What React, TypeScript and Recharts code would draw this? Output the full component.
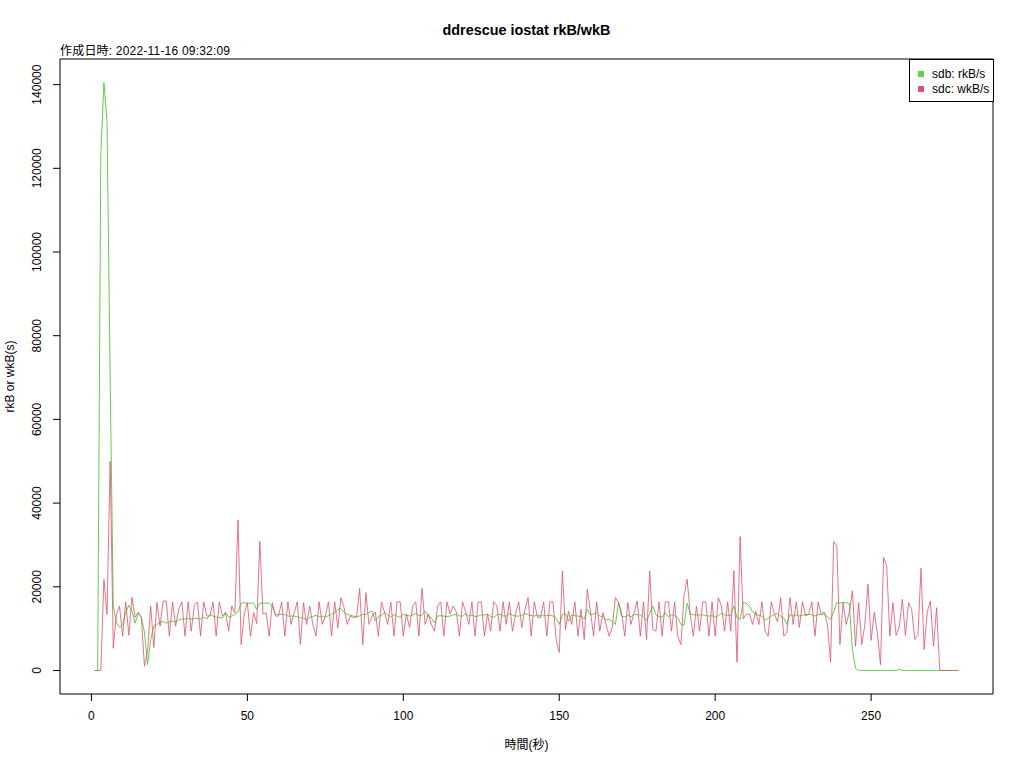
import React from 'react';
import { LineChart, Line, XAxis, YAxis, ReferenceArea } from 'recharts';

const sdbReadKB: number[] = [
  0, 0, 123000, 140500, 131000, 70000, 15400, 11500, 10300, 11000,
  13900, 15600, 14200, 11300, 13700, 12700, 9100, 1400, 7400, 10600,
  11000, 11500, 11700, 11300, 11600, 11800, 11600, 12100, 12300, 12300,
  12400, 12300, 12400, 12400, 12300, 12700, 12300, 13400, 13000, 12700,
  12700, 12500, 13900, 12700, 13000, 13400, 14000, 16100, 16200, 16000,
  16100, 16100, 14600, 16100, 16100, 16100, 16100, 15400, 13400, 13400,
  13400, 13400, 13000, 13000, 13000, 12800, 12700, 12500, 12100, 12700,
  12900, 13200, 12800, 13000, 12700, 13100, 13400, 13900, 14600, 14800,
  13900, 13400, 13200, 13000, 12900, 13000, 13400, 13400, 13900, 14200,
  11800, 12900, 13200, 13900, 13300, 12700, 13400, 13000, 12700, 13400,
  13200, 13000, 13300, 13600, 13100, 13200, 14200, 13000, 12500, 11400,
  13000, 13100, 13000, 12900, 13000, 13300, 13400, 13000, 13000, 13600,
  13000, 13300, 12900, 13000, 13300, 13200, 13500, 12900, 12700, 13300,
  13400, 13000, 13000, 13600, 13200, 13000, 13000, 13200, 13600, 13300,
  13100, 13000, 13300, 13000, 13300, 13100, 13200, 13000, 12500, 11000,
  13300, 13600, 11800, 13300, 13100, 13000, 12900, 12300, 14600, 13300,
  13500, 13800, 13000, 12900, 12100, 12200, 11800, 11000, 16300, 13000,
  12800, 13300, 12800, 13500, 13300, 13300, 12800, 11900, 13600, 15400,
  13300, 12900, 12700, 13800, 12800, 13300, 13200, 12600, 11000, 10800,
  16100, 13500, 13300, 13300, 13200, 13300, 13100, 13000, 13100, 12700,
  13100, 13700, 13300, 13100, 13200, 15400, 12600, 12200, 16300, 16000,
  15300, 14000, 13400, 13200, 13000, 12000, 12500, 13000, 13400, 13600,
  13000, 12500, 11000, 13400, 13000, 13300, 13000, 13200, 13400, 13400,
  13300, 13000, 13400, 13300, 13600, 12700, 12200, 14000, 16300, 16100,
  16300, 16200, 16000, 5000, 500, 0, 0, 0, 0, 0,
  0, 0, 0, 0, 0, 0, 0, 0, 300, 0,
  0, 0, 0, 0, 0, 0, 0, 0, 0, 0,
  0, 0, 0, 0, 0, 0, 0, 0,
];

const sdcWriteKB: number[] = [
  0, 0, 0, 21800, 13400, 50000, 5300, 13400, 15400, 8200,
  16400, 8400, 17500, 12700, 13900, 12700, 1000, 4600, 15400, 5500,
  16300, 10600, 16600, 16600, 8200, 16400, 10600, 14600, 16400, 8200,
  16400, 9400, 15600, 16400, 8200, 16400, 13000, 13000, 16400, 8200,
  16400, 13000, 13800, 9400, 15400, 13800, 36000, 6200, 13500, 16200,
  8200, 13800, 11200, 30900, 13500, 13800, 8200, 16200, 13000, 13000,
  16400, 8200, 16400, 11000, 13800, 16400, 6200, 16200, 11000, 15400,
  11000, 8200, 16400, 11000, 13000, 16400, 8200, 16400, 10200, 17400,
  15000, 11000, 13000, 12700, 12700, 19600, 6200, 18600, 11000, 13000,
  14000, 8200, 16400, 13800, 11000, 16400, 8200, 16400, 16400, 8200,
  13500, 10300, 15400, 16400, 8200, 19600, 11000, 13500, 11000, 9400,
  15400, 16400, 8200, 16400, 13500, 15400, 14000, 8200, 16400, 14000,
  11000, 16400, 8200, 16400, 16400, 8200, 13500, 9400, 16400, 15400,
  9400, 16400, 11000, 16400, 9400, 13500, 16400, 10300, 14600, 17400,
  8200, 16400, 12700, 12700, 16400, 8200, 16400, 16400, 7400, 4300,
  23800, 9800, 14200, 11000, 16400, 8200, 14600, 7400, 19400, 14200,
  8200, 16400, 9400, 13800, 11000, 8200, 10300, 17400, 16200, 13800,
  8200, 16200, 11000, 13800, 16600, 8200, 16400, 7400, 23800, 9800,
  9400, 16400, 8200, 16400, 16400, 9400, 16400, 8200, 6200, 17800,
  21800, 13500, 8200, 15400, 9400, 16400, 16400, 8200, 16400, 8200,
  17400, 15400, 9400, 16400, 9400, 23800, 2000, 32000, 12300, 13500,
  13500, 11000, 14200, 11000, 16400, 9400, 8200, 16400, 13500, 11600,
  17400, 8200, 9000, 17400, 11000, 16400, 10300, 16400, 13000, 13500,
  16400, 8200, 16400, 13500, 13900, 11000, 2000, 30800, 29800, 6200,
  16200, 11000, 13900, 19000, 5800, 16200, 6200, 11000, 20600, 7200,
  13900, 9000, 1400, 27000, 25000, 8200, 16200, 8400, 10300, 17000,
  8400, 16200, 14600, 7400, 8400, 24400, 5000, 14000, 16600, 5800,
  15000, 0, 0, 0, 0, 0, 0, 0,
];

const seconds: number[] = sdbReadKB.map((_, i) => i + 1);

const xTicks = [0, 50, 100, 150, 200, 250];
const yTicks = [0, 20000, 40000, 60000, 80000, 100000, 120000, 140000];

const titleText = 'ddrescue iostat rkB/wkB';
const subtitleText = '作成日時: 2022-11-16 09:32:09';
const xLabel = '時間(秒)';
const yLabel = 'rkB or wkB(s)';
const seriesNames = ['sdb: rkB/s', 'sdc: wkB/s'];
const seriesColors = ['#61D04F', '#DF536B'];

const data = seconds.map((t, i) => ({ t, sdb: sdbReadKB[i], sdc: sdcWriteKB[i] }));

const xMin = 1, xMax = 278;
const xPad = (xMax - xMin) * 0.04;
const yMin = 0, yMax = 140500;
const yPad = (yMax - yMin) * 0.04;
const xDomain: [number, number] = [xMin - xPad, xMax + xPad];
const yDomain: [number, number] = [yMin - yPad, yMax + yPad];

const FONT = '"Liberation Sans", Arial, Helvetica, sans-serif';
const CJK = '"Liberation Sans", "Noto Sans CJK JP", sans-serif';

const YTick = (props: any) => {
  const { x, y, payload } = props;
  return (
    <text
      x={x}
      y={y}
      transform={`rotate(-90, ${x}, ${y})`}
      textAnchor="middle"
      fontSize={12}
      fontFamily={FONT}
      fill="#000"
    >
      {payload.value}
    </text>
  );
};

const XTick = (props: any) => {
  const { x, y, payload } = props;
  return (
    <text x={x} y={y} textAnchor="middle" fontSize={12} fontFamily={FONT} fill="#000">
      {payload.value}
    </text>
  );
};

export default function App() {
  return (
    <div style={{ position: 'absolute', left: 0, top: 0, width: 1024, height: 768, background: '#fff' }}>
      <LineChart
        width={1024}
        height={768}
        data={data}
        margin={{ top: 59, right: 31, bottom: 0, left: 0 }}
      >
        <XAxis
          dataKey="t"
          type="number"
          domain={xDomain}
          allowDataOverflow
          ticks={xTicks}
          height={74}
          axisLine={false}
          tickSize={7}
          tickLine={{ stroke: '#000' }}
          tickMargin={19}
          tick={<XTick />}
          interval={0}
          label={(p: any) => {
            const vb = p.viewBox;
            return (
              <text
                x={vb.x + vb.width / 2}
                y={vb.y + 55}
                textAnchor="middle"
                fontSize={12}
                fontFamily={CJK}
                fill="#000"
              >
                {xLabel}
              </text>
            );
          }}
        />
        <YAxis
          type="number"
          domain={yDomain}
          allowDataOverflow
          ticks={yTicks}
          width={60}
          axisLine={false}
          tickSize={7}
          tickLine={{ stroke: '#000' }}
          tickMargin={12}
          tick={<YTick />}
          interval={0}
          label={(p: any) => {
            const vb = p.viewBox;
            const cx = 14;
            const cy = vb.y + vb.height / 2;
            return (
              <text
                x={cx}
                y={cy}
                transform={`rotate(-90, ${cx}, ${cy})`}
                textAnchor="middle"
                fontSize={12}
                fontFamily={FONT}
                fill="#000"
              >
                {yLabel}
              </text>
            );
          }}
        />
        <ReferenceArea
          x1={xDomain[0]}
          x2={xDomain[1]}
          y1={yDomain[0]}
          y2={yDomain[1]}
          fill="none"
          fillOpacity={0}
          stroke="#000"
          strokeWidth={1}
          ifOverflow="visible"
        />
        <Line
          type="linear"
          dataKey="sdb"
          name={seriesNames[0]}
          stroke={seriesColors[0]}
          strokeWidth={1}
          dot={false}
          activeDot={false}
          isAnimationActive={false}
        />
        <Line
          type="linear"
          dataKey="sdc"
          name={seriesNames[1]}
          stroke={seriesColors[1]}
          strokeOpacity={0.8}
          strokeWidth={1}
          dot={false}
          activeDot={false}
          isAnimationActive={false}
        />
      </LineChart>
      <div
        style={{
          position: 'absolute',
          left: 60,
          width: 933,
          top: 21,
          textAlign: 'center',
          fontFamily: FONT,
          fontWeight: 'bold',
          fontSize: 14.4,
          lineHeight: '18px',
          color: '#000',
        }}
      >
        {titleText}
      </div>
      <div
        style={{
          position: 'absolute',
          left: 60,
          top: 44,
          fontFamily: CJK,
          fontSize: 12,
          lineHeight: '14px',
          letterSpacing: '0.2px',
          color: '#000',
          whiteSpace: 'nowrap',
        }}
      >
        {subtitleText}
      </div>
      <div
        style={{
          position: 'absolute',
          left: 909,
          top: 59,
          width: 83,
          height: 41,
          border: '1px solid #000',
          background: '#fff',
          fontFamily: FONT,
          fontSize: 12,
          color: '#000',
        }}
      >
        {seriesNames.map((name, i) => (
          <div
            key={name}
            style={{
              position: 'absolute',
              left: 8,
              top: 7 + i * 15,
              height: 14,
              lineHeight: '14px',
              display: 'flex',
              alignItems: 'center',
              whiteSpace: 'nowrap',
            }}
          >
            <span
              style={{
                display: 'inline-block',
                width: 6,
                height: 6,
                background: seriesColors[i],
                marginRight: 8,
              }}
            />
            <span>{name}</span>
          </div>
        ))}
      </div>
    </div>
  );
}
